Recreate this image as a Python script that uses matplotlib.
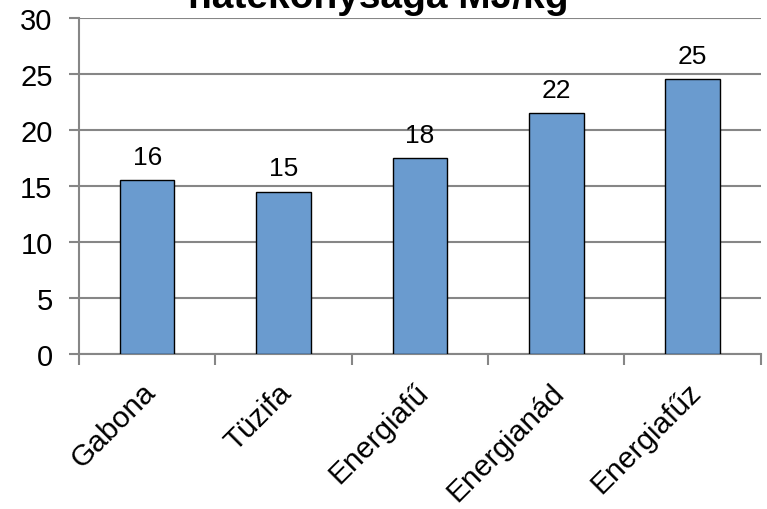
import matplotlib
matplotlib.use('Agg')
import matplotlib.pyplot as plt
from matplotlib.transforms import ScaledTranslation

plt.rcParams['font.family'] = ['Liberation Sans', 'DejaVu Sans']

categories = ['Gabona', 'Tüzifa', 'Energiafű', 'Energianád', 'Energiafűz']
values = [15.5, 14.5, 17.5, 21.5, 24.5]
value_labels = ['16', '15', '18', '22', '25']
title = 'hatékonysága MJ/kg'

grey = '#868686'

fig = plt.figure(figsize=(7.67, 5.10), dpi=100)
ax = fig.add_axes([0.103, 0.304, 0.889, 0.659])

x = range(len(categories))
bars = ax.bar(x, values, width=0.4, color='#6A9BCF', edgecolor='black', linewidth=1.0, zorder=3)

# data labels above the bars
for rect, lab in zip(bars, value_labels):
    ax.annotate(lab, (rect.get_x() + rect.get_width() / 2, rect.get_height()),
                xytext=(0, 8), textcoords='offset points',
                ha='center', va='bottom', fontsize=19)

ax.set_xlim(-0.5, len(categories) - 0.5)
ax.set_ylim(0, 30)
ax.set_yticks(range(0, 31, 5))
ax.yaxis.grid(True, color=grey, linewidth=1.5, zorder=0)
ax.set_axisbelow(True)

# category ticks sit on the boundaries, labels in the middle
ax.set_xticks([i - 0.5 for i in range(len(categories) + 1)])
ax.set_xticklabels([])
ax.set_xticks(list(x), minor=True)
ax.set_xticklabels(categories, minor=True, rotation=45, ha='right',
                   rotation_mode='anchor', fontsize=21.5)
ax.tick_params(axis='x', which='minor', length=0, pad=17)
ax.tick_params(axis='x', which='major', length=8, width=1.5, color=grey)
ax.tick_params(axis='y', length=7, width=1.5, color=grey, labelsize=21, pad=12)

# nudge the slanted labels a little to the left
shift = ScaledTranslation(-0.06, 0, fig.dpi_scale_trans)
for lab in ax.get_xticklabels(minor=True):
    lab.set_transform(lab.get_transform() + shift)

for side in ['top', 'right']:
    ax.spines[side].set_visible(False)
for side in ['left', 'bottom']:
    ax.spines[side].set_color(grey)
    ax.spines[side].set_linewidth(1.5)

fig.text(0.493, 0.984, title, ha='center', va='baseline', fontsize=28, fontweight='bold')

fig.savefig('out.png', dpi=100)
